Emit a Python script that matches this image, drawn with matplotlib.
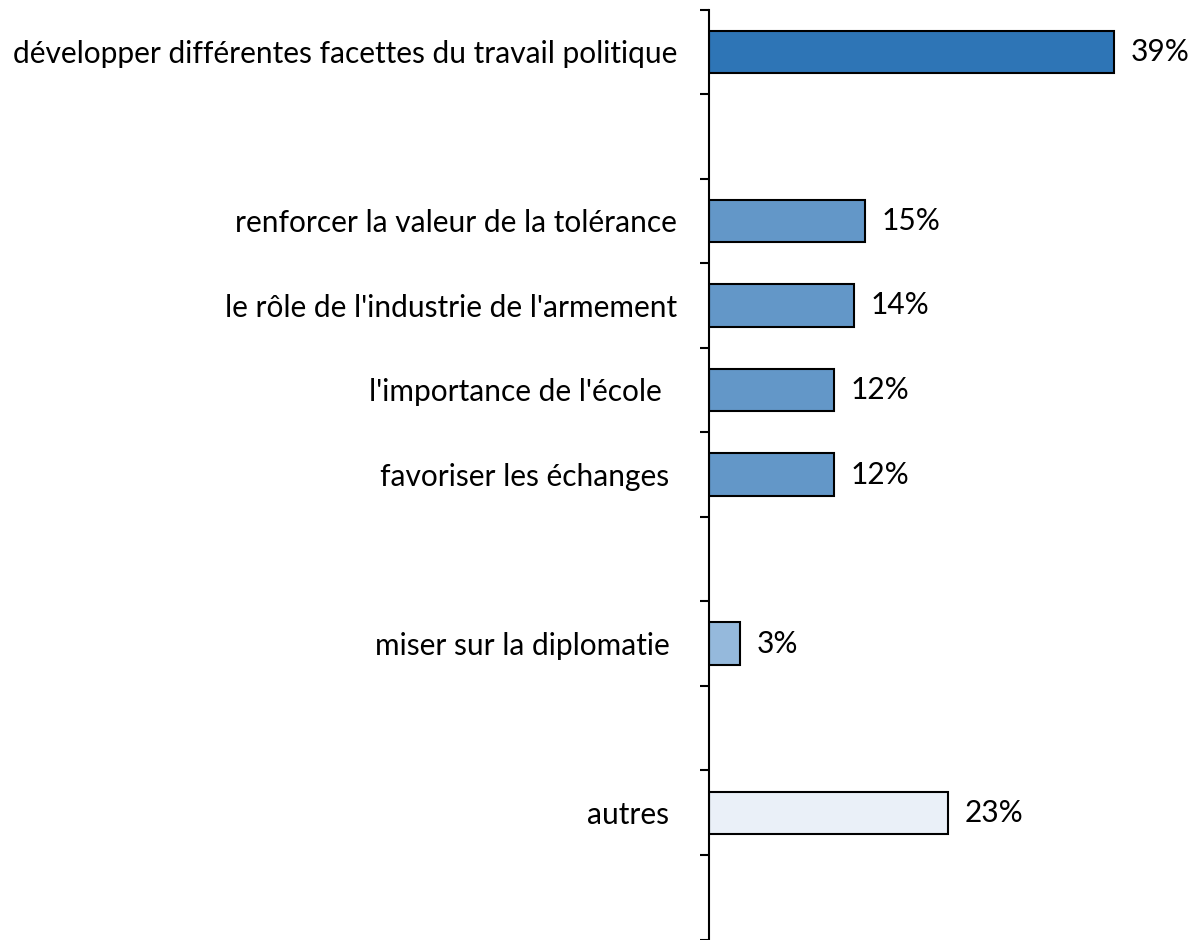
import matplotlib
matplotlib.use("Agg")
import matplotlib.pyplot as plt
import numpy as np

plt.rcParams['font.family'] = ['Lato', 'DejaVu Sans']

# Catégories (les chaînes vides laissent un espace entre les groupes)
categories = [
    "développer différentes facettes du travail politique",
    "",
    "renforcer la valeur de la tolérance",
    "le rôle de l'industrie de l'armement",
    "l'importance de l'école  ",
    "favoriser les échanges ",
    "",
    "miser sur la diplomatie ",
    "",
    "autres ",
    "",
]
valeurs = [39, None, 15, 14, 12, 12, None, 3, None, 23, None]
couleurs = ["#2E75B6", None, "#6397C8", "#6397C8", "#6397C8", "#6397C8",
            None, "#95B9DC", None, "#EAF0F8", None]

fig = plt.figure(figsize=(11.94, 9.40), dpi=100)
ax = fig.add_axes([709 / 1194, 0.0005, (1180 - 709) / 1194, 930 / 940])

pos = np.arange(len(categories))
for i, v in enumerate(valeurs):
    if v is None:
        continue
    ax.barh(pos[i], v, height=0.5, color=couleurs[i], edgecolor="black", linewidth=1.5)
    ax.annotate(f"{v}%", (v, pos[i]), xytext=(12, 0), textcoords="offset points",
                va="center", ha="left", fontsize=21.5)

ax.set_xlim(0, 471 / 10.38)
ax.set_ylim(len(categories) - 0.5, -0.5)

ax.set_yticks(pos)
ax.set_yticklabels(categories, fontsize=21.5)
ax.set_yticks(np.arange(-0.5, len(categories)), minor=True)
ax.tick_params(axis="y", which="major", length=0, pad=23)
ax.tick_params(axis="y", which="minor", length=6.5, width=1.5, direction="out")
ax.set_xticks([])

for s in ["top", "right", "bottom"]:
    ax.spines[s].set_visible(False)
ax.spines["left"].set_linewidth(1.5)

fig.savefig("out.png", dpi=100)
